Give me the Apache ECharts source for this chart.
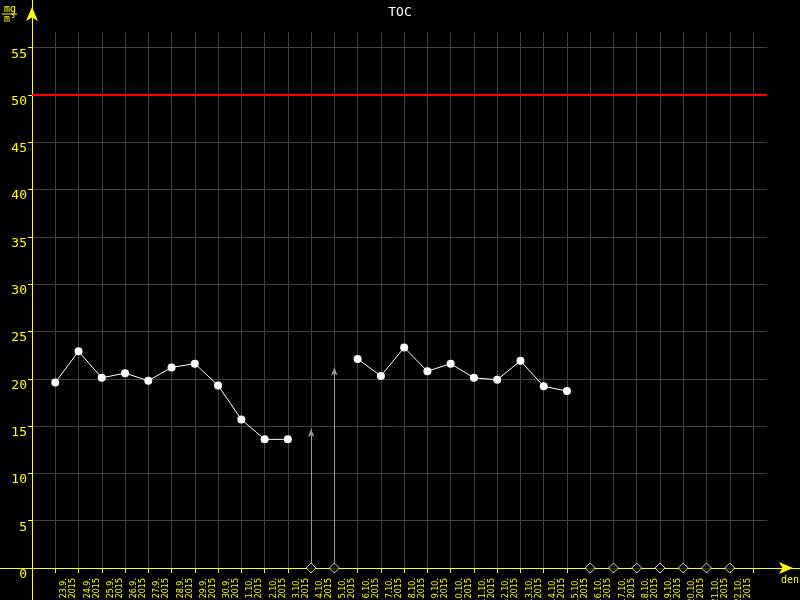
<!DOCTYPE html>
<html>
<head>
<meta charset="utf-8">
<script src="https://cdn.jsdelivr.net/npm/echarts@6/dist/echarts.min.js"></script>
<style>
  html, body { margin: 0; padding: 0; background: #000; }
  #chart { width: 800px; height: 600px; }
</style>
</head>
<body>
<div id="chart"></div>
<script>
// days shown on the x axis
const dates = ['23.9.', '24.9.', '25.9.', '26.9.', '27.9.', '28.9.', '29.9.', '30.9.',
  '1.10.', '2.10.', '3.10.', '4.10.', '5.10.', '6.10.', '7.10.', '8.10.', '9.10.', '10.10.',
  '11.10.', '12.10.', '13.10.', '14.10.', '15.10.', '16.10.', '17.10.', '18.10.', '19.10.',
  '20.10.', '21.10.', '22.10.']
const year = '2015'
// TOC daily values, mg/m3 (null = no measurement)
const toc = [19.6, 22.9, 20.1, 20.6, 19.8, 21.2, 21.6, 19.3, 15.7, 13.6, 13.6, null, null,
  22.1, 20.3, 23.3, 20.8, 21.6, 20.1, 19.9, 21.9, 19.2, 18.7, null, null, null, null, null, null, null]
// days with only an indicative value (grey arrows)
const arrowDays = [11, 12]
const arrowValues = [14.7, 21.2]
const limit = 50
const yTicks = [0, 5, 10, 15, 20, 25, 30, 35, 40, 45, 50, 55]

const yellow = '#ffff00'
const gridColor = '#404040'
const font = 'DejaVu Sans Mono'

const xTicks = dates.map((d, i) => i).concat(dates.length)
const lineData = toc.map((v, i) => [i, v])
const missing = toc.map((v, i) => (v === null ? [i, 0] : null)).filter(p => p)

const chart = echarts.init(document.getElementById('chart'))

chart.setOption({
  backgroundColor: '#000',
  animation: false,
  title: {
    text: 'TOC',
    left: 'center',
    top: 1,
    textStyle: { color: '#fff', fontFamily: font, fontSize: 13, fontWeight: 'normal' },
  },
  graphic: [
    {
      type: 'text',
      left: 2,
      top: 4,
      style: {
        text: '{a|mg}\n{bar|}\n{a|m³}',
        rich: {
          a: { fill: yellow, fontFamily: font, fontSize: 10, lineHeight: 9, padding: [0, 0, 0, 2] },
          bar: { width: 15, height: 1, backgroundColor: yellow },
        },
      },
    },
    {
      type: 'text',
      right: 1,
      top: 575,
      style: { text: 'den', fill: yellow, fontFamily: font, fontSize: 10 },
    },
  ],
  grid: [
    { left: 32, right: 33, top: 32, bottom: 32, outerBoundsMode: 'none', containLabel: false },
    // only carries the long yellow axes with arrows
    { left: 0, right: 0, top: 0, bottom: 0, outerBoundsMode: 'none', containLabel: false },
  ],
  xAxis: [
    {
      type: 'value',
      gridIndex: 0,
      min: -1,
      max: 30.6,
      axisLine: { show: false, onZero: false },
      axisTick: { show: true, length: 5, customValues: xTicks, lineStyle: { color: yellow } },
      splitLine: { show: true, lineStyle: { color: gridColor, width: 1 } },
      axisLabel: {
        customValues: dates.map((d, i) => i + 0.58),
        formatter: v => dates[Math.floor(v)] + '\n' + year,
        rotate: 90,
        margin: 10,
        color: yellow,
        fontFamily: 'DejaVu Sans',
        fontSize: 8,
        lineHeight: 9,
      },
    },
    {
      type: 'value',
      gridIndex: 1,
      min: -32,
      max: 768,
      axisLine: {
        onZero: true,
        lineStyle: { color: yellow, width: 1 },
        symbol: ['none', 'arrow'],
        symbolSize: [9, 14],
        symbolOffset: [0, -7],
      },
      axisTick: { show: false },
      axisLabel: { show: false },
      splitLine: { show: false },
    },
  ],
  yAxis: [
    {
      type: 'value',
      gridIndex: 0,
      min: 0,
      max: 56.66,
      axisLine: { show: false, onZero: false },
      axisTick: { show: true, inside: false, length: 4, customValues: yTicks, lineStyle: { color: yellow } },
      splitLine: { show: true, lineStyle: { color: gridColor, width: 1 } },
      axisLabel: {
        customValues: yTicks,
        color: yellow,
        fontFamily: font,
        fontSize: 13,
        margin: 5,
        verticalAlign: 'top',
      },
    },
    {
      type: 'value',
      gridIndex: 1,
      min: -32,
      max: 568,
      axisLine: {
        onZero: true,
        lineStyle: { color: yellow, width: 1 },
        symbol: ['none', 'arrow'],
        symbolSize: [9, 14],
        symbolOffset: [0, -7],
      },
      axisTick: { show: false },
      axisLabel: { show: false },
      splitLine: { show: false },
    },
  ],
  series: [
    {
      name: 'TOC',
      type: 'line',
      xAxisIndex: 0,
      yAxisIndex: 0,
      data: lineData,
      connectNulls: false,
      symbol: 'circle',
      symbolSize: 8,
      lineStyle: { color: '#fff', width: 1 },
      itemStyle: { color: '#fff' },
      z: 5,
      markLine: {
        silent: true,
        symbol: 'none',
        label: { show: false },
        lineStyle: { color: '#ff0000', width: 2, type: 'solid' },
        data: [{ yAxis: limit }],
      },
    },
    {
      name: 'no data',
      type: 'scatter',
      xAxisIndex: 0,
      yAxisIndex: 0,
      data: missing,
      symbol: 'diamond',
      symbolSize: 10,
      itemStyle: { color: '#000', borderColor: '#fff', borderWidth: 1 },
      z: 6,
      markLine: {
        silent: true,
        symbol: ['none', 'arrow'],
        symbolSize: [5, 8],
        label: { show: false },
        lineStyle: { color: '#9a9a9a', width: 1, type: 'solid' },
        data: arrowDays.map((d, i) => [{ coord: [d, 0] }, { coord: [d, arrowValues[i]] }]),
      },
    },
  ],
})
</script>
</body>
</html>
